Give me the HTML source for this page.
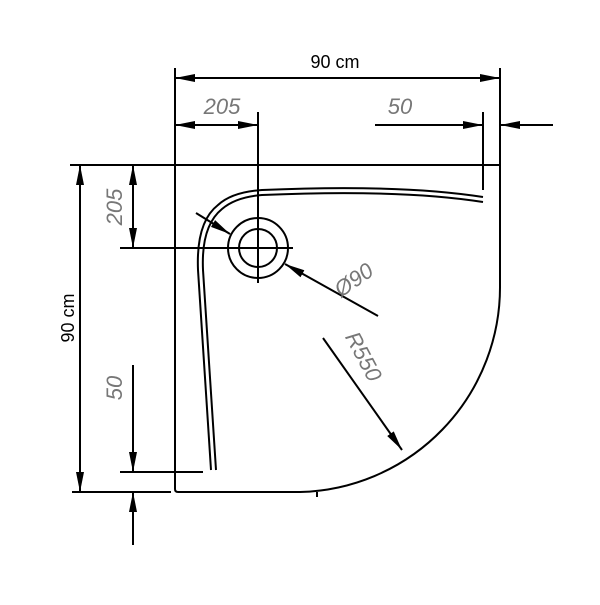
<!DOCTYPE html><html><head><style>body{margin:0;background:#fff}</style></head><body>
<svg width="600" height="600" viewBox="0 0 600 600" xmlns="http://www.w3.org/2000/svg">
<defs><marker id="b" viewBox="0 0 10 10" refX="10" refY="5" markerWidth="20" markerHeight="20" orient="auto-start-reverse" markerUnits="userSpaceOnUse"><path d="M0,3 L10,5 L0,7z" fill="#000"/></marker></defs>
<g stroke="#000" stroke-width="2" fill="none">
<path d="M175,165 H500 V285 A205,205 0 0 1 300,492 H178 Q175,492 175,489 Z"/>
<line x1="317" y1="492" x2="317" y2="497"/>
<path d="M211,470 L198,270 Q196,222 218,205 Q232,192 262,190 Q400,184 483,197"/>
<path d="M216,470 L203,270 Q201,226 222,209 Q236,197 262,195 Q400,189 483,202"/>
<circle cx="258" cy="248" r="30"/><circle cx="258" cy="248" r="19"/>
<line x1="120" y1="248" x2="293" y2="248"/><line x1="258" y1="112" x2="258" y2="283"/>
<line x1="175" y1="68" x2="175" y2="165"/><line x1="500" y1="68" x2="500" y2="165"/>
<line x1="175" y1="78" x2="500" y2="78" marker-start="url(#b)" marker-end="url(#b)"/>
<line x1="175" y1="125" x2="258" y2="125" marker-start="url(#b)" marker-end="url(#b)"/>
<line x1="375" y1="125" x2="483" y2="125" marker-end="url(#b)"/>
<line x1="553" y1="125" x2="500" y2="125" marker-end="url(#b)"/>
<line x1="483" y1="112" x2="483" y2="190"/>
<line x1="70" y1="165" x2="175" y2="165"/><line x1="72" y1="492" x2="171" y2="492"/>
<line x1="80" y1="165" x2="80" y2="492" marker-start="url(#b)" marker-end="url(#b)"/>
<line x1="133" y1="165" x2="133" y2="248" marker-start="url(#b)" marker-end="url(#b)"/>
<line x1="133" y1="365" x2="133" y2="472" marker-end="url(#b)"/>
<line x1="133" y1="545" x2="133" y2="492" marker-end="url(#b)"/>
<line x1="120" y1="472" x2="203" y2="472"/>
<line x1="196" y1="213" x2="230" y2="234" marker-end="url(#b)"/>
<line x1="378" y1="316" x2="285" y2="264" marker-end="url(#b)"/>
<line x1="323" y1="338" x2="402" y2="450" marker-end="url(#b)"/>
</g>
<g font-family="Liberation Sans, sans-serif" font-size="18">
<text x="335" y="68" text-anchor="middle">90 cm</text>
<text transform="translate(74,318) rotate(-90)" text-anchor="middle">90 cm</text>
</g>
<g font-family="Liberation Sans, sans-serif" font-size="22" fill="#777" font-style="italic">
<text x="222" y="114" text-anchor="middle">205</text>
<text x="400" y="114" text-anchor="middle">50</text>
<text transform="translate(122,207) rotate(-90)" text-anchor="middle">205</text>
<text transform="translate(122,388) rotate(-90)" text-anchor="middle">50</text>
<text transform="translate(358,286) rotate(-35)" text-anchor="middle">Ø90</text>
<text transform="translate(357,360) rotate(62)" text-anchor="middle">R550</text>
</g>
</svg></body></html>
